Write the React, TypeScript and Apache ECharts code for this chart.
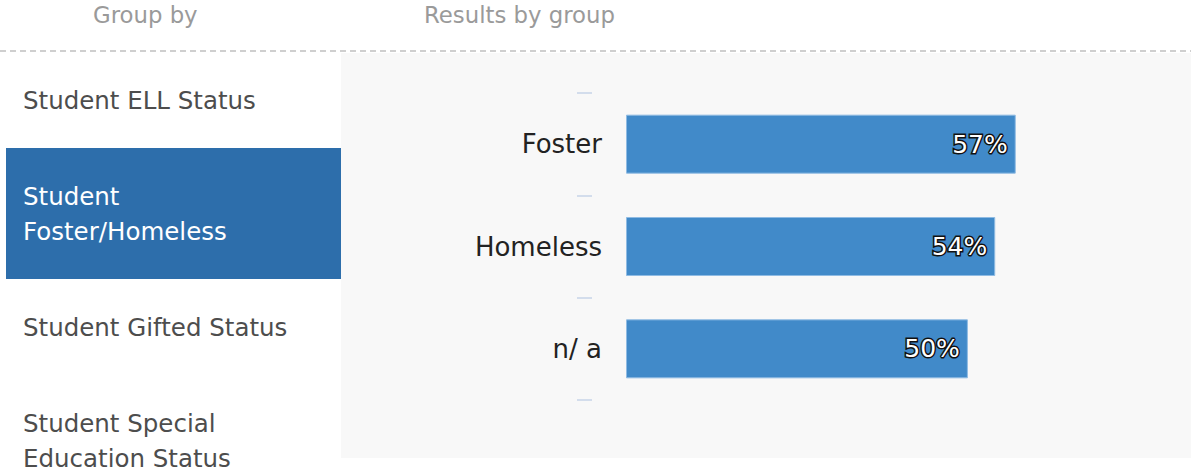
import React, { useEffect, useRef } from "react";
import * as echarts from "echarts";

const categories = ["Foster", "Homeless", "n/ a"];
const values = [57, 54, 50];
const groupItems = ["Student ELL Status", "Student\nFoster/Homeless", "Student Gifted Status", "Student Special\nEducation Status"];
const headers = ["Group by", "Results by group"];

const FONT = "'DejaVu Sans', 'Noto Sans', sans-serif";

export default function App() {
  const ref = useRef<HTMLDivElement>(null);
  useEffect(() => {
    document.body.style.margin = "0";
    const chart = echarts.init(ref.current!, null, { renderer: "svg" });
    const itemY = [100, 214, 327, 441];
    const graphics: any[] = [
      { type: "rect", z: -10, shape: { x: 341, y: 53, width: 850, height: 405 }, style: { fill: "#f8f8f8" } },
      { type: "line", shape: { x1: 0, y1: 51, x2: 1191, y2: 51 }, style: { stroke: "#cfcfcf", lineWidth: 2, lineDash: [6, 4] } },
      { type: "rect", z: -5, shape: { x: 6, y: 148, width: 335, height: 131 }, style: { fill: "#2d6eab" } },
      { type: "text", x: 93, y: 15, style: { text: headers[0], fill: "#9a9a9a", font: `22.8px ${FONT}`, verticalAlign: "middle" } },
      { type: "text", x: 424, y: 15, style: { text: headers[1], fill: "#9a9a9a", font: `22.8px ${FONT}`, verticalAlign: "middle" } },
    ];
    groupItems.forEach((t, i) => {
      graphics.push({
        type: "text",
        x: 23,
        y: itemY[i],
        style: {
          text: t,
          fill: i === 1 ? "#ffffff" : "#4d4d4d",
          font: `24.5px ${FONT}`,
          lineHeight: 35,
          verticalAlign: "middle",
        },
      });
    });
    chart.setOption({
      animation: false,
      grid: { left: 626, top: 93, height: 307, width: 547, containLabel: false, outerBoundsMode: "none" },
      xAxis: { type: "value", min: 0, max: 80, show: false },
      yAxis: [
        {
          type: "category",
          data: categories,
          inverse: true,
          axisLine: { show: false },
          axisTick: { show: false },
          axisLabel: { margin: 24, color: "#222", fontSize: 26, fontFamily: FONT },
        },
        {
          type: "category",
          data: categories,
          inverse: true,
          position: "left",
          offset: 34,
          axisLine: { show: false },
          axisTick: { show: true, length: 15, lineStyle: { color: "#d3ddec", width: 2 } },
          axisLabel: { show: false },
        },
      ],
      series: [
        {
          type: "bar",
          yAxisIndex: 0,
          data: values,
          barWidth: 59,
          itemStyle: { color: "#418ac9", borderColor: "#8fbbe3", borderWidth: 1 },
          label: {
            show: true,
            position: "insideRight",
            distance: 8,
            formatter: "{c}%",
            color: "#fff",
            fontSize: 25,
            fontFamily: FONT,
            textBorderColor: "#111",
            textBorderWidth: 3,
          },
        },
      ],
      graphic: graphics,
    });
    return () => chart.dispose();
  }, []);
  return <div ref={ref} style={{ width: 1191, height: 475 }} />;
}
